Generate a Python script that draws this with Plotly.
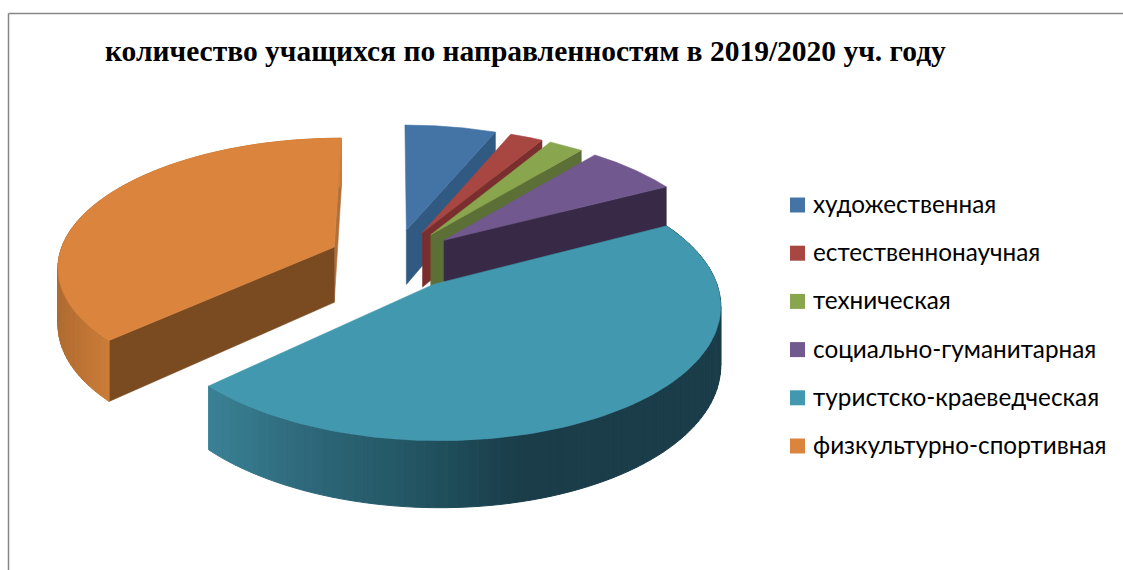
import numpy as np
import plotly.graph_objects as go

CATEGORIES = [
    "художественная",
    "естественнонаучная",
    "техническая",
    "социально-гуманитарная",
    "туристско-краеведческая",
    "физкультурно-спортивная",
]
SHARES = [6.2, 2.3, 2.4, 6.4, 45.7, 37.0]
TITLE = "количество учащихся по направленностям в 2019/2020 уч. году"

TOP_COLORS = ["#4474a6", "#a84642", "#89a54e", "#71588f", "#4198af", "#db843d"]
SIDE_COLORS = ["#315a82", "#7a2f2e", "#5b6f36", "#382a47", "#1a3d49", "#7a4b21"]

# outer wall shading, screen x -> colour
WALL_STOPS = {
    4: [(206, "#3b8297"), (300, "#2f6a7c"), (400, "#245866"), (520, "#1a3d49"), (720, "#1a3d49")],
    5: [(58, "#b06c30"), (105, "#ca7c39")],
}

# pseudo 3d camera, all in page pixels
CX, CY = 394, 259
R = 276
F = 2000
TILT = 0.46
DEPTH = 56
PULL = 66

# hand-placed legend, same spacing as the picture
LEG_X, LEG_Y, LEG_STEP = 797.5, 205, 48.2
LEG_TEXT_X = 811
LEG_TEXT_DY = -1.5


def project(x, y, down=0.0):
    s = F / (F + y)
    return CX + x * s, CY - y * TILT * s + down * s


def hex_rgb(c):
    return np.array([int(c[i : i + 2], 16) for i in (1, 3, 5)], dtype=float)


def wall_color(stops, x):
    xs = [p[0] for p in stops]
    rgb = [np.interp(x, xs, [hex_rgb(p[1])[i] for p in stops]) for i in range(3)]
    return "rgb(%d,%d,%d)" % tuple(rgb)


def add_poly(fig, xs, ys, color, edge=0.6):
    fig.add_trace(
        go.Scatter(
            x=list(xs),
            y=list(ys),
            mode="lines",
            fill="toself",
            fillcolor=color,
            line=dict(color=color, width=edge),
            hoverinfo="skip",
            showlegend=False,
        )
    )


def radial_wall(fig, ox, oy, theta, color):
    ex, ey = ox + R * np.sin(theta), oy + R * np.cos(theta)
    x0, y0 = project(ox, oy)
    x1, y1 = project(ex, ey)
    x2, y2 = project(ex, ey, DEPTH)
    x3, y3 = project(ox, oy, DEPTH)
    add_poly(fig, [x0, x1, x2, x3, x0], [y0, y1, y2, y3, y0], color)


def outer_wall(fig, ox, oy, t0, t1, stops):
    edges = np.linspace(t0, t1, 90)
    for a, b in zip(edges[:-1], edges[1:]):
        ts = np.array([a, b])
        px = ox + R * np.sin(ts)
        py = oy + R * np.cos(ts)
        xt, yt = project(px, py)
        xb, yb = project(px, py, DEPTH)
        color = wall_color(stops, (xt[0] + xt[1]) / 2)
        add_poly(fig, [xt[0], xt[1], xb[1], xb[0], xt[0]], [yt[0], yt[1], yb[1], yb[0], yt[0]], color, edge=1)


def top_face(fig, ox, oy, t0, t1, color):
    ts = np.linspace(t0, t1, 120)
    px = np.concatenate([[ox], ox + R * np.sin(ts), [ox]])
    py = np.concatenate([[oy], oy + R * np.cos(ts), [oy]])
    xs, ys = project(px, py)
    add_poly(fig, xs, ys, color)


shares = np.array(SHARES)
bounds = np.concatenate([[0], np.cumsum(shares)]) / shares.sum() * 2 * np.pi

fig = go.Figure()

# painter's order: the back-left slice first, the big front slice last
for i in [5, 0, 1, 2, 3, 4]:
    t0, t1 = bounds[i], bounds[i + 1]
    mid = (t0 + t1) / 2
    ox, oy = PULL * np.sin(mid), PULL * np.cos(mid)
    if i == 5:
        radial_wall(fig, ox, oy, t1, "#b0703a")
        radial_wall(fig, ox, oy, t0, SIDE_COLORS[i])
    elif i < 4:
        radial_wall(fig, ox, oy, t1, SIDE_COLORS[i])
    if i in WALL_STOPS:
        outer_wall(fig, ox, oy, t0, t1, WALL_STOPS[i])
    top_face(fig, ox, oy, t0, t1, TOP_COLORS[i])

leg_y = [LEG_Y + k * LEG_STEP for k in range(len(CATEGORIES))]

fig.add_trace(
    go.Scatter(
        x=[LEG_X] * len(CATEGORIES),
        y=leg_y,
        mode="markers",
        marker=dict(symbol="square", size=15, color=TOP_COLORS),
        hovertext=CATEGORIES,
        hoverinfo="text",
        showlegend=False,
    )
)

annotations = [
    dict(
        text="<b>%s</b>" % TITLE,
        x=525,
        y=51,
        xref="x",
        yref="y",
        showarrow=False,
        font=dict(family="Liberation Serif", size=29.5, color="#000000"),
    )
]
for name, y in zip(CATEGORIES, leg_y):
    annotations.append(
        dict(
            text=name,
            x=LEG_TEXT_X,
            y=y + LEG_TEXT_DY,
            xref="x",
            yref="y",
            xanchor="left",
            showarrow=False,
            font=dict(family="Lato", size=24.3, color="#000000"),
        )
    )

fig.update_xaxes(range=[0, 1123], visible=False, fixedrange=True)
fig.update_yaxes(range=[570, 0], visible=False, fixedrange=True)
fig.update_layout(
    width=1123,
    height=570,
    margin=dict(l=0, r=0, t=0, b=0),
    plot_bgcolor="white",
    paper_bgcolor="white",
    shapes=[
        dict(type="line", x0=8.5, x1=1123, y0=13.5, y1=13.5, line=dict(color="#868686", width=1.5)),
        dict(type="line", x0=8.5, x1=8.5, y0=13.5, y1=570, line=dict(color="#868686", width=1.5)),
    ],
    annotations=annotations,
)

fig.write_html(
    "out.html",
    config=dict(displayModeBar=False),
    post_script="document.body.style.margin='0';document.body.style.overflow='hidden';",
)
